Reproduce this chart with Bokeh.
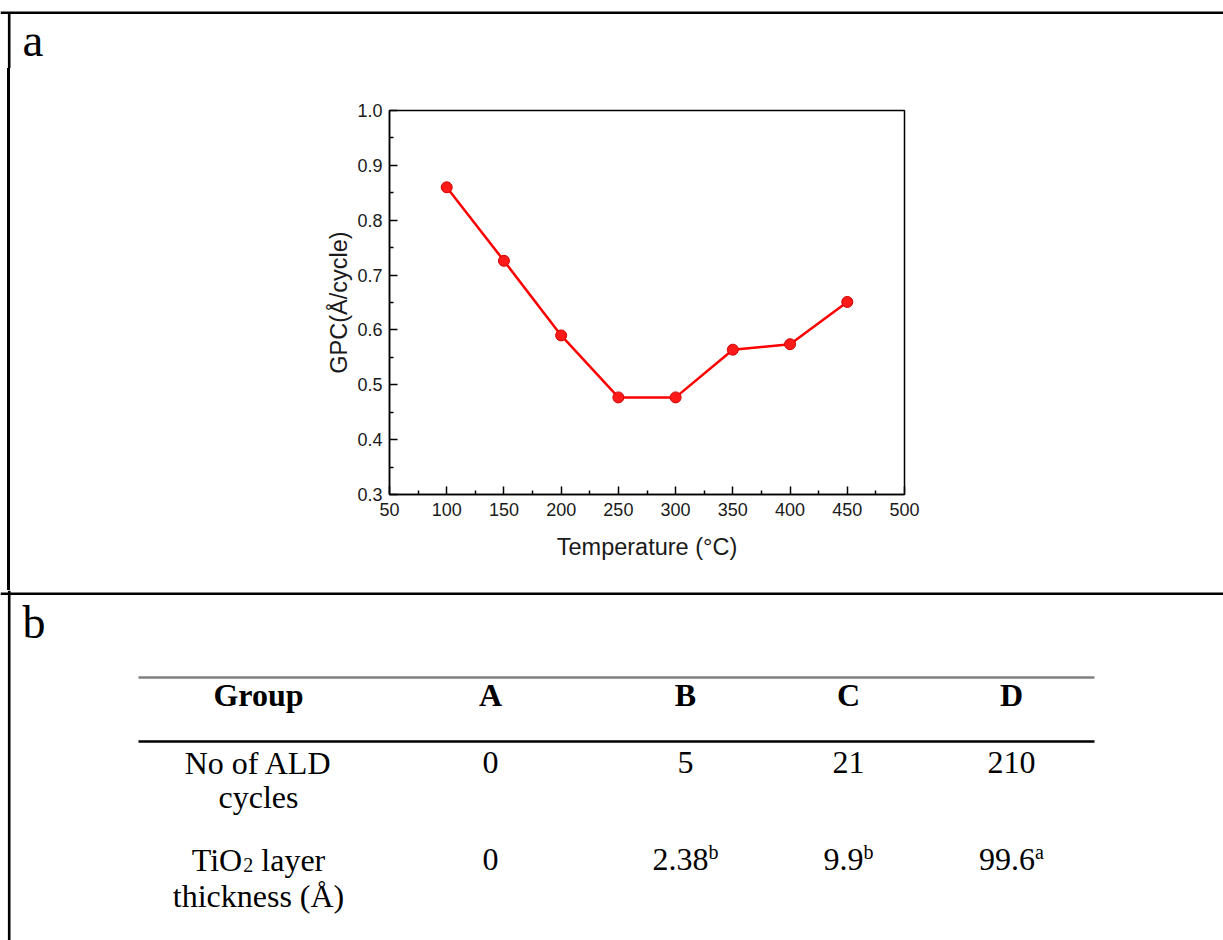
from bokeh.plotting import figure
from bokeh.layouts import column, row
from bokeh.models import Range1d, FixedTicker, PrintfTickFormatter, Div
from bokeh.core.properties import value
from bokeh.embed import file_html
from bokeh.resources import INLINE

# ---------------- data ----------------
temperature = [100, 150, 200, 250, 300, 350, 400, 450]
gpc = [0.860, 0.726, 0.590, 0.477, 0.477, 0.564, 0.574, 0.651]
x_ticks = [50, 100, 150, 200, 250, 300, 350, 400, 450, 500]
y_ticks = [0.3, 0.4, 0.5, 0.6, 0.7, 0.8, 0.9, 1.0]

header_label = "Group"
groups = ["A", "B", "C", "D"]
ald_label = ["No of ALD", "cycles"]
ald_cycles = ["0", "5", "21", "210"]
thick_label_parts = ["TiO", "2", "layer"]
thick_label_line2 = "thickness (Å)"
thickness = ["0", "2.38", "9.9", "99.6"]
thickness_sup = ["", "b", "b", "a"]

# ---------------- layout constants (pixels) ----------------
W, H = 1223, 940
TOP_H = 68          # strip above chart
MID_BOTTOM = 590    # chart strip ends here
SERIF = "Liberation Serif"
SANS = "Liberation Sans"
F = 32          # table font
FS = 20         # sup/sub font
K = 0.4         # baseline correction (fraction of font size)
col_x = [258, 490, 685, 848, 1011]
TNR = {"0": .5, "1": .5, "2": .5, "3": .5, "4": .5, "5": .5, "6": .5, "7": .5, "8": .5, "9": .5,
       ".": .25, "a": .444, "b": .5, "T": .611, "i": .278, "O": .722, " ": .25, "l": .278,
       "y": .5, "e": .444, "r": .333}


def tw(s, size):
    return sum(TNR.get(c, .5) for c in s) * size


def blank(w, h, xr, yr):
    f = figure(width=w, height=h, x_range=Range1d(*xr), y_range=Range1d(*yr),
               output_backend="svg", toolbar_location=None,
               x_axis_type=None, y_axis_type=None, min_border=0)
    f.outline_line_color = None
    f.background_fill_color = "white"
    f.border_fill_color = "white"
    return f


# ---- top strip (panel a label + top border) ----
fa = blank(W, TOP_H, (0, W), (TOP_H, 0))
fa.segment(x0=[0], y0=[12.2], x1=[W], y1=[12.2], line_color="black", line_width=2.5)
fa.segment(x0=[8.7], y0=[12.2], x1=[8.7], y1=[TOP_H], line_color="black", line_width=2.6)
fa.text(x=[22], y=[57 - 0.37 * 47], text=["a"], text_font=value(SERIF), text_font_size="47px",
        text_align="left", text_baseline="alphabetic", text_color="black")

# ---- left strip (border) as plain blocks ----
MID_H = MID_BOTTOM - TOP_H
gap = Div(width=7, height=MID_H, margin=(0, 0, 0, 0), styles={"background-color": "white"})
bar = Div(width=3, height=MID_H, margin=(0, 0, 0, 0), styles={"background-color": "black"})

# ---- chart ----
PW = W - 10
p = figure(width=PW, height=MID_H, x_range=Range1d(50, 500), y_range=Range1d(0.3, 1.0),
           output_backend="svg", toolbar_location=None,
           min_border_left=389 - 10, min_border_right=W - 904,
           min_border_top=110 - TOP_H, min_border_bottom=MID_BOTTOM - 494)
p.grid.visible = False
p.outline_line_color = "black"
p.outline_line_width = 1.5
p.background_fill_color = "white"
p.border_fill_color = "white"

p.xaxis.ticker = FixedTicker(ticks=x_ticks,
                             minor_ticks=[(a + b) / 2 for a, b in zip(x_ticks[:-1], x_ticks[1:])])
p.yaxis.ticker = FixedTicker(ticks=y_ticks,
                             minor_ticks=[(a + b) / 2 for a, b in zip(y_ticks[:-1], y_ticks[1:])])
p.yaxis.formatter = PrintfTickFormatter(format="%.1f")
p.xaxis.axis_label = "Temperature (°C)"
p.yaxis.axis_label = "GPC(Å/cycle)"
for ax in (p.xaxis[0], p.yaxis[0]):
    ax.major_tick_in = 8
    ax.major_tick_out = 0
    ax.minor_tick_in = 4
    ax.minor_tick_out = 0
    ax.axis_line_width = 1.5
    ax.major_tick_line_width = 1.5
    ax.minor_tick_line_width = 1.5
    ax.major_label_text_font = SANS
    ax.major_label_text_font_size = "18px"
    ax.major_label_text_color = "#1a1a1a"
    ax.axis_label_text_font = SANS
    ax.axis_label_text_font_size = "23.5px"
    ax.axis_label_text_font_style = "normal"
    ax.axis_label_text_color = "#1a1a1a"
p.xaxis.major_label_standoff = 8
p.xaxis.axis_label_standoff = 15
p.yaxis.major_label_standoff = 7
p.yaxis.axis_label_standoff = 2

p.line(temperature, gpc, line_color="#ff0000", line_width=2.5)
p.scatter(temperature, gpc, size=11, fill_color="#ff1a1a", line_color="#d00000", line_width=1)

# ---- bottom panel (table) ----
BOT_H = H - MID_BOTTOM
fb = blank(W, BOT_H, (0, W), (H, MID_BOTTOM))
fb.segment(x0=[0], y0=[593.3], x1=[W], y1=[593.3], line_color="black", line_width=2.5)
fb.segment(x0=[8.7], y0=[MID_BOTTOM], x1=[8.7], y1=[H], line_color="black", line_width=2.6)
fb.text(x=[22], y=[639 - 0.37 * 46], text=["b"], text_font=value(SERIF), text_font_size="46px",
        text_align="left", text_baseline="alphabetic", text_color="black")

# rules
fb.segment(x0=[138], y0=[677], x1=[1094], y1=[677], line_color="#808080", line_width=2.3)
fb.segment(x0=[138], y0=[741], x1=[1094], y1=[741], line_color="black", line_width=2.3)

common = dict(text_font=value(SERIF), text_align="center", text_baseline="alphabetic",
              text_color="black")
left = dict(text_font=value(SERIF), text_align="left", text_baseline="alphabetic",
            text_color="black")
dy = K * F   # baseline correction in pixels

# header
fb.text(x=col_x, y=[707 - dy] * 5, text=[header_label] + groups, text_font_size=f"{F}px",
        text_font_style="bold", **common)

# row 1
fb.text(x=[col_x[0], col_x[0]], y=[775 - dy, 809 - dy], text=ald_label,
        text_font_size=f"{F}px", **common)
fb.text(x=col_x[1:], y=[775 - dy] * 4, text=ald_cycles, text_font_size=f"{F}px", **common)

# row 2 label with subscript
w0 = tw(thick_label_parts[0], F)
w1 = tw(thick_label_parts[1], FS)
wsp = tw(" ", F)
w2 = tw(thick_label_parts[2], F)
start = col_x[0] - (w0 + w1 + wsp + w2) / 2
fb.text(x=[start], y=[872 - dy], text=[thick_label_parts[0]], text_font_size=f"{F}px", **left)
fb.text(x=[start + w0], y=[877 - dy], text=[thick_label_parts[1]], text_font_size=f"{FS}px", **left)
fb.text(x=[start + w0 + w1 + wsp], y=[872 - dy], text=[thick_label_parts[2]],
        text_font_size=f"{F}px", **left)
fb.text(x=[col_x[0]], y=[908 - dy], text=[thick_label_line2], text_font_size=f"{F}px", **common)

# row 2 values with superscripts
bx, sx = [], []
for cx, base, sup in zip(col_x[1:], thickness, thickness_sup):
    wb = tw(base, F)
    ws = tw(sup, FS)
    s0 = cx - (wb + ws) / 2
    bx.append(s0)
    sx.append(s0 + wb)
fb.text(x=bx, y=[872 - dy] * 4, text=thickness, text_font_size=f"{F}px", **left)
fb.text(x=sx, y=[864 - dy] * 4, text=thickness_sup, text_font_size=f"{FS}px", **left)

layout = column(fa, row(gap, bar, p, spacing=0), fb, spacing=0)
open("out.html", "w").write(file_html(layout, INLINE))
